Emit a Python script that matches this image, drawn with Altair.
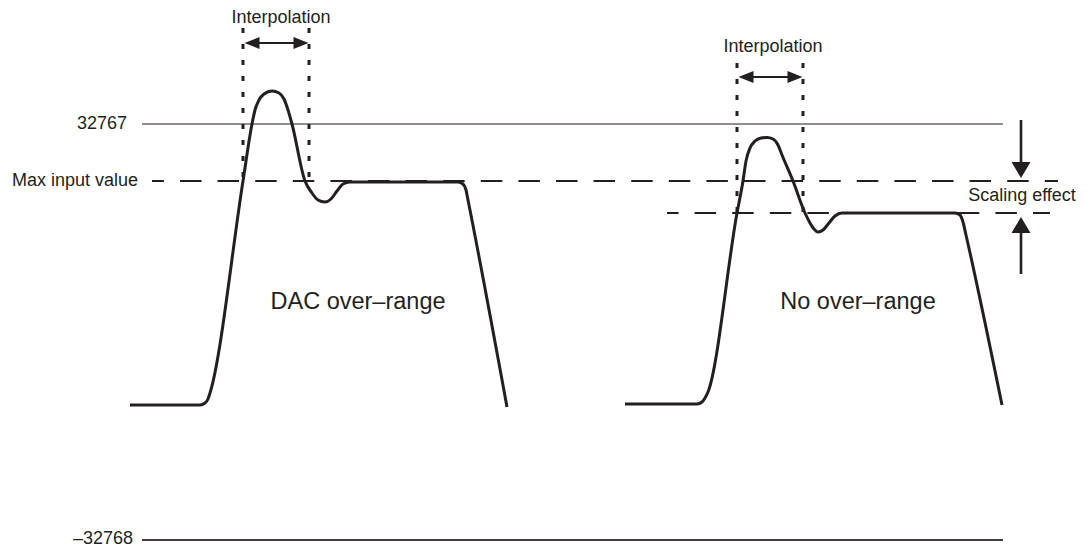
import altair as alt
import pandas as pd

# ---- coordinate frame: horizontal position (time) and vertical level (drawn top-down)
X_DOMAIN = [8, 1079]
Y_DOMAIN = [8, 549]

# ---- waveform 1: DAC over-range
left_wave_x = [130, 200, 205, 208, 210, 243, 252, 255, 259, 264, 272, 279, 284, 288, 292, 305,
               312, 318, 325, 331, 337, 343, 350, 458, 463, 466, 468, 507]
left_wave_y = [405, 405, 403, 399, 393, 181, 124, 110, 100, 94, 91, 93, 99, 110, 124, 181,
               193, 200, 202, 199, 191, 184, 182, 182, 184, 190, 200, 407]

# ---- waveform 2: no over-range (scaled)
right_wave_x = [625, 697, 702, 705, 708, 737, 743, 746, 750, 755, 761, 767, 773, 778, 782, 793,
                805, 810, 814, 818, 823, 829, 835, 842, 955, 960, 963, 966, 1002]
right_wave_y = [404, 404, 402, 398, 392, 213, 181, 161, 148, 141, 138, 137.5, 139, 145, 155, 181,
                213, 223, 229, 232, 230, 223, 216, 213, 213, 215, 222, 235, 405]

# ---- reference levels
full_scale_levels = [124, 540]            # 32767, -32768
full_scale_labels = ["32767", "\u201332768"]
full_scale_label_x = [127, 133]
max_input_level = 181
scaled_level = 213

# ---- interpolation windows
interp_left = [243, 309]
interp_right = [737, 803]

FONT = "Liberation Sans"
INK = "#231f20"

xs = alt.Scale(domain=X_DOMAIN, nice=False, zero=False)
ys = alt.Scale(domain=Y_DOMAIN, nice=False, zero=False, reverse=True)


def X(f="x"):
    return alt.X(f"{f}:Q", scale=xs, axis=None)


def Y(f="y"):
    return alt.Y(f"{f}:Q", scale=ys, axis=None)


# waveforms
waves = pd.DataFrame({
    "x": left_wave_x + right_wave_x,
    "y": left_wave_y + right_wave_y,
    "wave": ["left"] * len(left_wave_x) + ["right"] * len(right_wave_x),
    "i": list(range(len(left_wave_x))) + list(range(len(right_wave_x))),
})
wave_layer = alt.Chart(waves).mark_line(
    color=INK, strokeWidth=3, interpolate="monotone", strokeJoin="round"
).encode(x=X(), y=Y(), detail="wave:N", order="i:Q")

# full scale solid lines
fs_top = alt.Chart(pd.DataFrame({"x": [142], "x2": [1003], "y": [full_scale_levels[0]]})).mark_rule(
    color="#6f6865", strokeWidth=1.6).encode(x=X(), x2="x2:Q", y=Y())
fs_bot = alt.Chart(pd.DataFrame({"x": [142], "x2": [1003], "y": [full_scale_levels[1]]})).mark_rule(
    color="#433e3c", strokeWidth=2.2).encode(x=X(), x2="x2:Q", y=Y())

# dashed levels
max_df = pd.DataFrame({"x": [152], "x2": [1058], "y": [max_input_level]})
max_layer = alt.Chart(max_df).mark_rule(
    color=INK, strokeWidth=2, strokeDash=[21.5, 16.1], strokeDashOffset=9.6
).encode(x=X(), x2="x2:Q", y=Y())

sc_df = pd.DataFrame({"x": [667], "x2": [1050], "y": [scaled_level]})
sc_layer = alt.Chart(sc_df).mark_rule(
    color=INK, strokeWidth=2, strokeDash=[21.5, 16.1], strokeDashOffset=10
).encode(x=X(), x2="x2:Q", y=Y())

# dotted interpolation window lines
dots = pd.DataFrame({
    "x": interp_left + interp_right,
    "y": [28, 28, 63, 63],
    "y2": [181, 181, 213, 213],
})
dot_layer = alt.Chart(dots).mark_rule(
    color=INK, strokeWidth=3, strokeDash=[5, 11]
).encode(x=X(), y=Y(), y2="y2:Q")

# double arrows (shafts)
h_shafts = pd.DataFrame({"x": [250, 744], "x2": [302, 796], "y": [43, 77]})
h_shaft_layer = alt.Chart(h_shafts).mark_rule(color=INK, strokeWidth=2.2).encode(
    x=X(), x2="x2:Q", y=Y())

v_shafts = pd.DataFrame({"x": [1021, 1021], "y": [120, 228], "y2": [166, 274]})
v_shaft_layer = alt.Chart(v_shafts).mark_rule(color=INK, strokeWidth=2.6).encode(
    x=X(), y=Y(), y2="y2:Q")

# arrow heads
RIGHT = "M1,0L-1,-0.8L-1,0.8Z"
LEFT = "M-1,0L1,-0.8L1,0.8Z"
DOWN = "M0,0.84L-1,-0.84L1,-0.84Z"
UP = "M0,-0.84L-1,0.84L1,0.84Z"


def heads(xv, yv, shape, size):
    d = pd.DataFrame({"x": xv, "y": yv})
    return alt.Chart(d).mark_point(
        shape=shape, size=size, filled=True, color=INK, opacity=1, strokeWidth=0
    ).encode(x=X(), y=Y())


head_layers = [
    heads([301, 795], [43, 77], RIGHT, 225),
    heads([252, 746], [43, 77], LEFT, 225),
    heads([1021], [170], DOWN, 361),
    heads([1021], [225], UP, 361),
]


# texts
def texts(xv, yv, labels, size, align):
    d = pd.DataFrame({"x": xv, "y": yv, "t": labels})
    return alt.Chart(d).mark_text(
        font=FONT, fontSize=size, color=INK, align=align, baseline="middle"
    ).encode(x=X(), y=Y(), text="t:N")


text_layers = [
    texts([281, 773], [17.5, 47], ["Interpolation", "Interpolation"], 18, "center"),
    texts(full_scale_label_x, [full_scale_levels[0], full_scale_levels[1] - 1],
          full_scale_labels, 18, "right"),
    texts([138], [max_input_level], ["Max input value"], 18, "right"),
    texts([1022], [196], ["Scaling effect"], 18, "center"),
    texts([358, 858], [302, 302], ["DAC over\u2013range", "No over\u2013range"], 23.5, "center"),
]

chart = alt.layer(
    fs_top, fs_bot, max_layer, sc_layer, dot_layer, wave_layer,
    h_shaft_layer, v_shaft_layer, *head_layers, *text_layers
).properties(
    width=1071, height=541, padding=0, autosize=alt.AutoSizeParams(type="none"),
    background="white"
).configure_view(stroke=None)

chart.save("out.html", embed_options={"renderer": "svg", "actions": False})
